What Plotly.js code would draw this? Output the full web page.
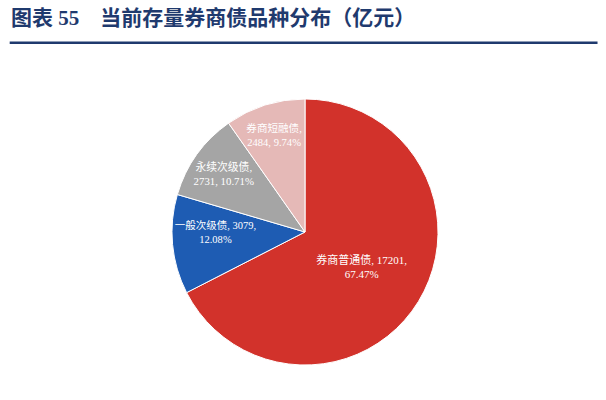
<!DOCTYPE html>
<html>
<head>
<meta charset="utf-8">
<script src="https://cdn.plot.ly/plotly-3.0.1.min.js"></script>
<style>
  html, body { margin: 0; padding: 0; background: #fff; }
  #chart { width: 606px; height: 400px; }
</style>
</head>
<body>
<div id="chart"></div>
<script>
// 当前存量券商债品种分布（亿元）
const categories = ['券商普通债', '一般次级债', '永续次级债', '券商短融债'];
const amounts = [17201, 3079, 2731, 2484];
const shares = ['67.47%', '12.08%', '10.71%', '9.74%'];
const colors = ['#D2322B', '#1E5CB3', '#A5A5A5', '#E5B9B7'];

// where each label wraps onto its second line
const wrapAfterName = [false, false, true, true];
const labelText = categories.map(function (c, i) {
    if (wrapAfterName[i]) {
        return c + ',<br>' + amounts[i] + ', ' + shares[i];
    }
    return c + ', ' + amounts[i] + ',<br>' + shares[i];
});

const data = [{
    type: 'pie',
    labels: categories,
    values: amounts,
    text: labelText,
    textinfo: 'text',
    textposition: 'inside',
    insidetextorientation: 'horizontal',
    hoverinfo: 'label+value+percent',
    sort: false,
    direction: 'clockwise',
    rotation: 0,
    marker: {
        colors: colors,
        line: { color: '#ffffff', width: 1 }
    },
    insidetextfont: {
        family: 'Liberation Serif, Noto Sans CJK SC, serif',
        size: 11,
        color: '#ffffff'
    },
    domain: { x: [0.2838, 0.7228], y: [0.085, 0.755] },
    showlegend: false
}];

const layout = {
    width: 606,
    height: 400,
    margin: { l: 0, r: 0, t: 0, b: 0 },
    paper_bgcolor: '#ffffff',
    title: {
        text: '<b>图表 55    当前存量券商债品种分布（亿元）</b>',
        font: {
            family: 'Liberation Serif, Noto Sans CJK SC, serif',
            size: 21,
            color: '#1F3A6E'
        },
        x: 0.018,
        xanchor: 'left',
        xref: 'paper',
        y: 0.955,
        yanchor: 'middle',
        yref: 'container'
    },
    shapes: [{
        type: 'line',
        xref: 'paper',
        yref: 'paper',
        x0: 0.016,
        x1: 0.986,
        y0: 0.893,
        y1: 0.893,
        line: { color: '#1F3A6E', width: 2.5 }
    }]
};

Plotly.newPlot('chart', data, layout, { displayModeBar: false, staticPlot: true });
</script>
</body>
</html>
